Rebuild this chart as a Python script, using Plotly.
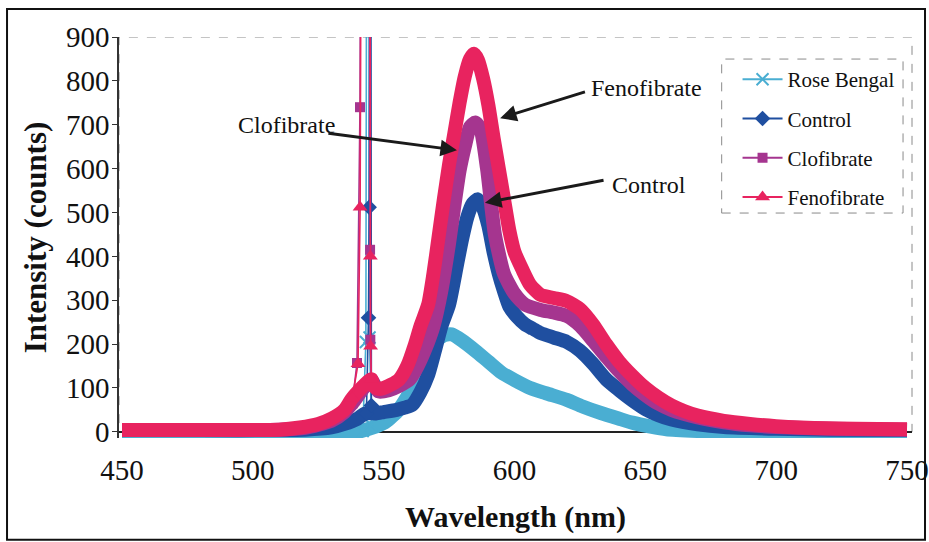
import plotly.graph_objects as go

# ---------------- data ----------------
series_names = ["Rose Bengal", "Control", "Clofibrate", "Fenofibrate"]

# broad emission bands (nm, counts)
rb_x = [450, 480, 510, 540, 546, 550, 555, 560, 565, 570, 573, 576, 580, 585, 590, 595, 600,
        606, 612, 620, 626, 633, 640, 645, 652, 658, 670, 680, 700, 720, 750]
rb_y = [0, 0, 0, 0, 10, 20, 45, 90, 150, 205, 220, 222, 208, 185, 160, 135, 118,
        100, 88, 73, 58, 43, 30, 21, 12, 6, 2, 0, 0, 0, 0]

ctl_x = [450, 480, 510, 520, 530, 535, 540, 543, 547, 550, 555, 558, 561, 564, 567, 570, 572,
         575, 578, 580, 582, 584, 586, 588, 590, 592, 594, 596, 598, 601, 604, 607, 610, 615,
         620, 625, 630, 635, 640, 645, 650, 655, 660, 670, 680, 700, 720, 750]
ctl_y = [4, 4, 4, 5, 10, 18, 30, 42, 42, 45, 50, 55, 62, 90, 130, 195, 240,
         290, 380, 440, 490, 520, 530, 510, 470, 410, 360, 320, 286, 262, 245, 235, 225, 215,
         205, 185, 155, 120, 95, 72, 52, 38, 28, 17, 11, 7, 5, 4]

clo_x = [450, 480, 510, 520, 530, 535, 538, 545.2, 548, 552, 556, 560, 563, 566, 569, 572,
         575, 577, 579, 581, 583, 585, 587, 589.5, 592.5, 596, 600, 604, 610, 615, 620, 625,
         630, 635, 640, 645, 650, 655, 660, 670, 680, 690, 700, 720, 750]
clo_y = [4, 4, 5, 9, 25, 45, 65, 118, 92, 95, 105, 120, 150, 190, 240, 320,
         430, 515, 595, 650, 695, 705, 690, 600, 450, 360, 315, 290, 278, 272, 264, 242,
         208, 172, 138, 108, 84, 64, 50, 33, 22, 15, 11, 7, 5]

fen_x = [450, 480, 510, 518, 525, 530, 535, 538, 545.3, 546, 548, 550, 553, 556, 559, 562,
         564, 567, 569, 571, 573, 575, 577, 579, 581, 583, 584.5, 586, 588, 590, 592, 594,
         596, 598, 600, 603, 606, 610, 615, 620, 625, 630, 635, 640, 645, 650, 655, 660,
         665, 670, 680, 690, 700, 720, 750]
fen_y = [4, 4, 5, 10, 18, 30, 50, 77, 120, 105, 98, 100, 108, 120, 150, 200,
         240, 290, 360, 445, 530, 610, 680, 750, 810, 850, 862, 848, 805, 745, 670, 600,
         530, 460, 410, 370, 335, 312, 305, 298, 280, 245, 200, 160, 128, 100, 78, 60,
         47, 37, 25, 18, 13, 8, 6]

# narrow scatter spike near 542-545 nm (goes off scale)
rb_sx = [542.0, 543.2, 543.7, 544.3, 544.6, 545.3]
rb_sy = [2, 205, 2000, 2000, 215, 15]
ctl_sx = [543.4, 544.2, 544.45, 544.7, 544.95, 545.3]
ctl_sy = [42, 260, 512, 2000, 2000, 60]
clo_sx = [538, 539.8, 540.95, 541.6, 544.4, 544.8, 544.9, 545.2]
clo_sy = [65, 157, 740, 2000, 2000, 415, 210, 118]
fen_sx = [538, 540.2, 541.0, 541.8, 544.6, 544.9, 545.0, 545.3]
fen_sy = [77, 155, 512, 2000, 2000, 400, 195, 120]

x_ticks = [450, 500, 550, 600, 650, 700, 750]
y_ticks = [0, 100, 200, 300, 400, 500, 600, 700, 800, 900]

# ---------------- styling ----------------
colors = ["#4aaed2", "#1f4fa0", "#a5358f", "#e8235f"]
symbols = ["x-thin-open", "diamond", "square", "triangle-up"]
msizes = [12, 12, 10, 13]
FONT = "Liberation Serif, Times New Roman, serif"

bands = [(rb_x, rb_y), (ctl_x, ctl_y), (clo_x, clo_y), (fen_x, fen_y)]
spikes = [(rb_sx, rb_sy), (ctl_sx, ctl_sy), (clo_sx, clo_sy), (fen_sx, fen_sy)]

fig = go.Figure()
for i, name in enumerate(series_names):
    bx, by = bands[i]
    sx, sy = spikes[i]
    fig.add_trace(go.Scatter(x=bx, y=by, mode="lines", showlegend=False, hoverinfo="skip",
                             line=dict(color=colors[i], width=14, shape="spline", smoothing=0.6)))
    fig.add_trace(go.Scatter(x=sx, y=sy, mode="lines+markers", showlegend=False, hoverinfo="skip",
                             line=dict(color=colors[i], width=1.6),
                             marker=dict(symbol=symbols[i], size=msizes[i], color=colors[i],
                                         line=dict(color=colors[i], width=2 if i == 0 else 0))))
for i, name in enumerate(series_names):
    fig.add_trace(go.Scatter(x=[None], y=[None], mode="lines+markers", name=name,
                             legendgroup=name,
                             line=dict(color=colors[i], width=2),
                             marker=dict(symbol=symbols[i], size=msizes[i], color=colors[i],
                                         line=dict(color=colors[i], width=2 if i == 0 else 0))))

# ---------------- annotations ----------------
def label(text, x, y):
    fig.add_annotation(x=x, y=y, text=text, showarrow=False, xanchor="left", yanchor="middle",
                       font=dict(family=FONT, size=24, color="#111"))

def arrow(x, y, ax, ay):
    fig.add_annotation(x=x, y=y, ax=ax, ay=ay, axref="x", ayref="y", text="",
                       showarrow=True, arrowhead=2, arrowsize=1.1, arrowwidth=3,
                       arrowcolor="#1a1a1a")

label("Fenofibrate", 628.5, 784)
label("Control", 636.5, 563)
label("Clofibrate", 493.5, 699)
arrow(594.5, 715, 627.5, 776)
arrow(588.7, 522, 634.6, 574)
arrow(578.0, 642, 528.3, 681)

# ---------------- frames ----------------
shapes = [
    dict(type="rect", xref="paper", yref="y", x0=0, x1=1, y0=0, y1=900,
         line=dict(color="#8a8a8a", width=1, dash="dash"), layer="below"),
    dict(type="rect", xref="paper", yref="paper", x0=0.760, x1=0.9887, y0=0.561, y1=0.945,
         line=dict(color="#8a8a8a", width=1, dash="dash"), fillcolor="white", layer="below"),
    dict(type="rect", xref="paper", yref="paper", x0=-0.1412, x1=1.0164, y0=-0.254, y1=1.0697,
         line=dict(color="#111", width=2)),
]

fig.update_layout(
    width=929, height=542,
    margin=dict(l=119, r=17, t=37, b=104),
    paper_bgcolor="white", plot_bgcolor="white",
    font=dict(family=FONT, color="#111"),
    shapes=shapes,
    showlegend=True,
    legend=dict(x=0.780, y=0.945, xanchor="left", yanchor="top",
                bgcolor="rgba(0,0,0,0)", borderwidth=0,
                font=dict(family=FONT, size=21, color="#111"),
                traceorder="grouped", tracegroupgap=9, itemwidth=40),
)
fig.update_xaxes(range=[448.85, 751.91], tickvals=x_ticks, ticktext=[str(v) for v in x_ticks],
                 automargin=False,
                 showgrid=False, zeroline=False, showline=False, ticks="",
                 tickfont=dict(family=FONT, size=29, color="#111"), ticklabelstandoff=12,
                 title=dict(text="<b>Wavelength (nm)</b>", font=dict(family=FONT, size=30, color="#111"),
                            standoff=20))
fig.update_yaxes(range=[-14, 900], tickvals=y_ticks, ticktext=[str(v) for v in y_ticks],
                 automargin=False,
                 showgrid=False, zeroline=True, zerolinecolor="#222", zerolinewidth=1.5,
                 showline=True, linecolor="#333", linewidth=1.5,
                 ticks="outside", ticklen=5, tickcolor="#333",
                 tickfont=dict(family=FONT, size=29, color="#111"), ticklabelstandoff=-3,
                 title=dict(text="<b>Intensity (counts)</b>", font=dict(family=FONT, size=31, color="#111"),
                            standoff=10))

fig.write_html("out.html")
